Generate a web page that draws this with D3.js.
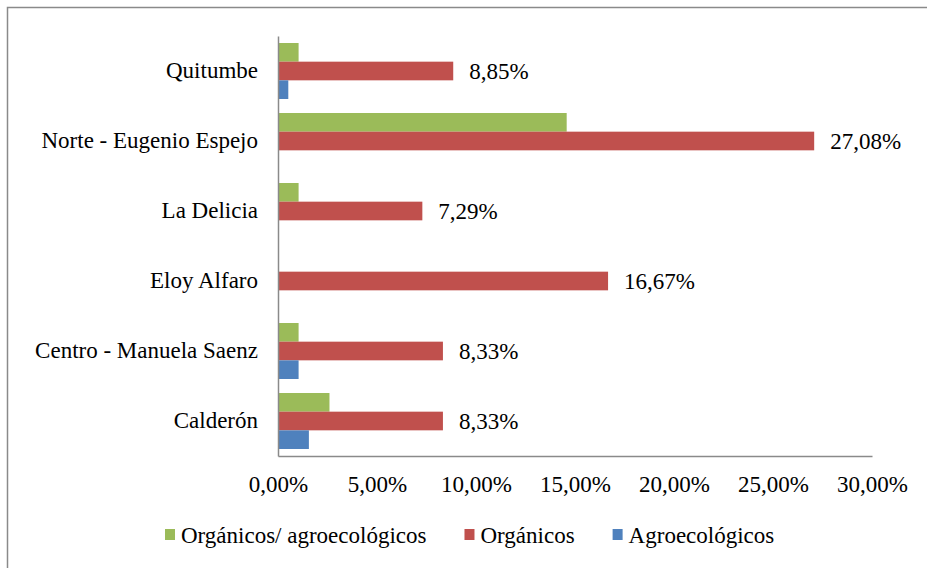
<!DOCTYPE html>
<meta charset="utf-8">
<script src="https://d3js.org/d3.v7.min.js"></script>
<style>
  body { margin: 0; background: #fff; }
</style>
<div id="my_dataviz"></div>
<script>
// data
var categories = ["Quitumbe", "Norte - Eugenio Espejo", "La Delicia", "Eloy Alfaro", "Centro - Manuela Saenz", "Calderón"];
var seriesNames = ["Orgánicos/ agroecológicos", "Orgánicos", "Agroecológicos"];
var seriesColors = ["#9BBB59", "#C0504D", "#4F81BD"];
var mixedValues = [1.04, 14.58, 1.04, 0, 1.04, 2.60];     // Orgánicos/ agroecológicos
var organicValues = [8.85, 27.08, 7.29, 16.67, 8.33, 8.33]; // Orgánicos
var agroValues = [0.52, 0, 0, 0, 1.04, 1.56];              // Agroecológicos
var xTicks = [0, 5, 10, 15, 20, 25, 30];

var allValues = [mixedValues, organicValues, agroValues];

// pick an installed serif face (measure against monospace fallback)
function pickFont(list) {
  var ctx = document.createElement("canvas").getContext("2d");
  var probe = "Orgánicos agroecológicos 0123456789 WMil";
  ctx.font = "40px monospace";
  var base = ctx.measureText(probe).width;
  for (var i = 0; i < list.length; i++) {
    ctx.font = "40px \"" + list[i] + "\", monospace";
    if (Math.abs(ctx.measureText(probe).width - base) > 0.5) return list[i];
  }
  return "serif";
}
var FONT = pickFont(["Liberation Serif", "Times New Roman", "Tinos", "DejaVu Serif", "Noto Serif"]);
var fontCss = "\"" + FONT + "\", serif";

var width = 927, height = 568;
var margin = {top: 36, right: 55, bottom: 112, left: 278};

var svg = d3.select("#my_dataviz")
  .append("svg")
    .attr("width", width)
    .attr("height", height);

// outer frame
svg.append("rect")
    .attr("x", 7.5).attr("y", 7.5)
    .attr("width", width + 10).attr("height", height + 10)
    .attr("fill", "none")
    .attr("stroke", "#8a8a8a")
    .attr("stroke-width", 1.5);

var x = d3.scaleLinear()
  .domain([0, 30])
  .range([margin.left, width - margin.right]);

var y0 = d3.scaleBand()
  .domain(categories)
  .range([margin.top, height - margin.bottom])
  .paddingInner(0.2)
  .paddingOuter(0.1);

var y1 = d3.scaleBand()
  .domain(seriesNames)
  .range([0, y0.bandwidth()]);

var fmt = function(v) { return v.toFixed(2).replace(".", ",") + "%"; };

// bars
var groups = svg.selectAll(".grp")
  .data(categories)
  .enter().append("g")
    .attr("class", "grp")
    .attr("transform", function(d) { return "translate(0," + y0(d) + ")"; });

groups.selectAll("rect")
  .data(function(d, i) {
    return seriesNames.map(function(s, j) { return {series: s, idx: j, value: allValues[j][i]}; });
  })
  .enter().append("rect")
    .attr("x", x(0))
    .attr("y", function(d) { return y1(d.series); })
    .attr("width", function(d) { return x(d.value) - x(0); })
    .attr("height", y1.bandwidth())
    .attr("fill", function(d) { return seriesColors[d.idx]; });

// labels for Orgánicos
groups.append("text")
    .attr("x", function(d, i) { return x(organicValues[i]) + 16; })
    .attr("y", y1("Orgánicos") + y1.bandwidth() / 2)
    .attr("dy", "0.35em")
    .attr("font-family", fontCss)
    .attr("font-size", 23)
    .text(function(d, i) { return fmt(organicValues[i]); });

// x axis
var xAxis = svg.append("g")
    .attr("transform", "translate(0," + (height - margin.bottom) + ")")
    .call(d3.axisBottom(x).tickValues(xTicks).tickSize(0).tickPadding(20).tickFormat(fmt))
    .attr("font-family", fontCss)
    .attr("font-size", 23);
xAxis.select(".domain").attr("stroke", "#8a8a8a").attr("stroke-width", 1.5);
xAxis.selectAll("text").attr("fill", "#000");

// y axis
var yAxis = svg.append("g")
    .attr("transform", "translate(" + margin.left + ",0)")
    .call(d3.axisLeft(y0).tickSize(0).tickPadding(20))
    .attr("font-family", fontCss)
    .attr("font-size", 23);
yAxis.select(".domain").attr("stroke", "#8a8a8a").attr("stroke-width", 1.5);
yAxis.selectAll("text").attr("fill", "#000");

// legend
var legend = svg.append("g")
    .attr("transform", "translate(165,535)")
    .attr("font-family", fontCss)
    .attr("font-size", 23);
var lx = 0;
seriesNames.forEach(function(s, i) {
  var item = legend.append("g").attr("transform", "translate(" + lx + ",0)");
  item.append("rect")
      .attr("x", 0).attr("y", -6)
      .attr("width", 10).attr("height", 11)
      .attr("fill", seriesColors[i]);
  var t = item.append("text")
      .attr("x", 16).attr("dy", "0.35em")
      .text(s);
  lx += 16 + t.node().getComputedTextLength() + 38;
});
</script>
